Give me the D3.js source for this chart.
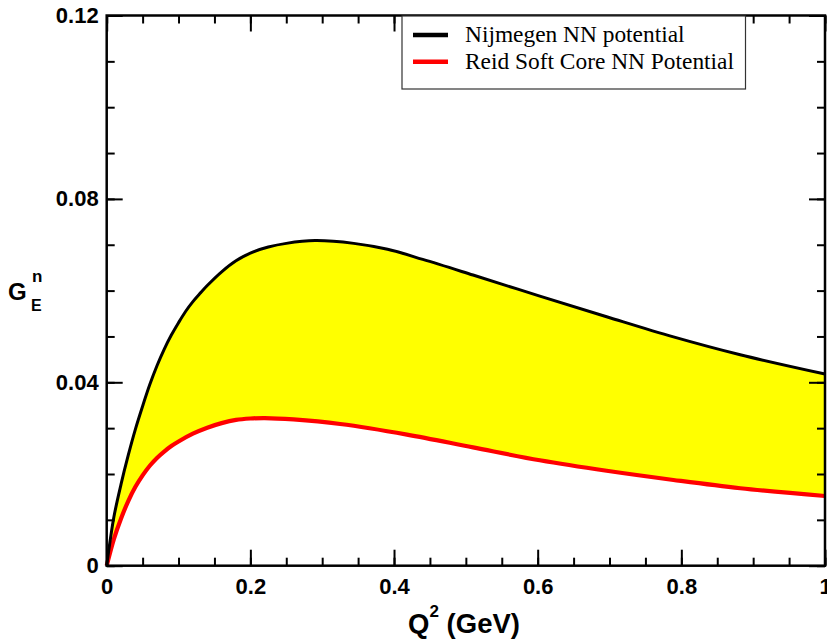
<!DOCTYPE html>
<html><head><meta charset="utf-8">
<script src="https://cdn.jsdelivr.net/npm/d3@7"></script>
<style>body{margin:0;background:#fff}</style>
</head><body>
<svg id="c" width="827" height="640"></svg>
<script>
// Nijmegen NN potential
const nijQ = [0, 0.01, 0.02, 0.03, 0.04, 0.05, 0.06, 0.07, 0.08, 0.09, 0.10, 0.11, 0.12, 0.13, 0.14, 0.16, 0.18, 0.20, 0.225, 0.25, 0.29, 0.344, 0.391, 0.44, 0.51, 0.603, 0.696, 0.789, 0.882, 1.0];
const nijG = [0, 0.0106, 0.0178, 0.0241, 0.0298, 0.0348, 0.0395, 0.0436, 0.0472, 0.0503, 0.0530, 0.0555, 0.0576, 0.0594, 0.0611, 0.0641, 0.0665, 0.0682, 0.0695, 0.0703, 0.0709, 0.0703, 0.0690, 0.0668, 0.0634, 0.0588, 0.0543, 0.0499, 0.0460, 0.0418];
// Reid Soft Core NN Potential
const rscQ = [0, 0.01, 0.02, 0.03, 0.04, 0.05, 0.06, 0.07, 0.08, 0.09, 0.10, 0.12, 0.14, 0.16, 0.18, 0.20, 0.22, 0.26, 0.325, 0.418, 0.51, 0.603, 0.696, 0.789, 0.882, 1.0];
const rscG = [0, 0.0058, 0.0103, 0.0141, 0.0172, 0.0197, 0.0218, 0.0235, 0.0249, 0.0261, 0.0271, 0.0288, 0.0301, 0.0311, 0.0318, 0.0321, 0.0322, 0.0319, 0.0309, 0.0286, 0.0258, 0.0230, 0.0207, 0.0187, 0.0169, 0.0152];
const seriesNames = ["Nijmegen NN potential", "Reid Soft Core NN Potential"];
const seriesColors = ["#000000", "#ff0000"];
const xTicks = [0, 0.2, 0.4, 0.6, 0.8, 1];
const xTickLabels = ["0", "0.2", "0.4", "0.6", "0.8", "1"];
const yTicks = [0, 0.04, 0.08, 0.12];
const yTickLabels = ["0", "0.04", "0.08", "0.12"];

const L = 106.7, R = 825, T = 15.5, B = 565.7;
const svg = d3.select("#c");
const x = d3.scaleLinear().domain([0, 1]).range([L, R]);
const y = d3.scaleLinear().domain([0, 0.12]).range([B, T]);

const nij = nijQ.map((q, i) => [q, nijG[i]]);
const rsc = rscQ.map((q, i) => [q, rscG[i]]);
const line = d3.line().x(d => x(d[0])).y(d => y(d[1])).curve(d3.curveCatmullRom.alpha(0.5));

const upper = line(nij);
const lower = line(rsc.slice().reverse());
svg.append("path").attr("fill", "#ffff00").attr("stroke", "none")
  .attr("d", upper + "L" + lower.slice(1) + "Z");

svg.append("path").attr("fill", "none").attr("stroke", seriesColors[1]).attr("stroke-width", 4.2).attr("d", line(rsc));
svg.append("path").attr("fill", "none").attr("stroke", seriesColors[0]).attr("stroke-width", 3).attr("d", line(nij));

const fmtX = (d) => { const i = xTicks.findIndex(t => Math.abs(t - d) < 1e-9); return i >= 0 ? xTickLabels[i] : ""; };
const fmtY = (d) => { const i = yTicks.findIndex(t => Math.abs(t - d) < 1e-9); return i >= 0 ? yTickLabels[i] : ""; };
const xMinor = d3.range(0, 1.0001, 0.05);
const yMinor = d3.range(0, 0.12001, 0.01);
const FONT = "Liberation Sans, Arial, Helvetica, sans-serif";

function styleAxis(g) {
  g.selectAll(".domain").remove();
  g.selectAll("line").attr("stroke", "#000").attr("stroke-width", 2);
  g.selectAll("text").attr("font-family", FONT).attr("font-weight", "bold").attr("font-size", 22).attr("fill", "#000");
}
const gb = svg.append("g").attr("transform", `translate(0,${B})`);
gb.call(d3.axisBottom(x).tickValues(xMinor).tickSize(-8).tickFormat(() => ""));
gb.append("g").call(d3.axisBottom(x).tickValues(xTicks).tickSize(-16).tickFormat(fmtX));
styleAxis(gb);
gb.selectAll("text").attr("y", 13).attr("dy", "0.71em");

const gt = svg.append("g").attr("transform", `translate(0,${T})`);
gt.call(d3.axisTop(x).tickValues(xMinor).tickSize(-8).tickFormat(() => ""));
gt.append("g").call(d3.axisTop(x).tickValues(xTicks).tickSize(-16).tickFormat(() => ""));
styleAxis(gt);

const gl = svg.append("g").attr("transform", `translate(${L},0)`);
gl.call(d3.axisLeft(y).tickValues(yMinor).tickSize(-8).tickFormat(() => ""));
gl.append("g").call(d3.axisLeft(y).tickValues(yTicks).tickSize(-16).tickFormat(fmtY));
styleAxis(gl);
gl.selectAll("text").attr("x", -8).attr("dy", "0.32em");

const gr = svg.append("g").attr("transform", `translate(${R},0)`);
gr.call(d3.axisRight(y).tickValues(yMinor).tickSize(-8).tickFormat(() => ""));
gr.append("g").call(d3.axisRight(y).tickValues(yTicks).tickSize(-16).tickFormat(() => ""));
styleAxis(gr);

svg.append("rect").attr("x", L).attr("y", T).attr("width", R - L).attr("height", B - T)
  .attr("fill", "none").attr("stroke", "#000").attr("stroke-width", 2.5);

// axis titles
const xt = svg.append("text").attr("x", 464).attr("y", 633).attr("text-anchor", "middle")
  .attr("font-family", FONT).attr("font-weight", "bold").attr("font-size", 27.5);
xt.append("tspan").text("Q");
xt.append("tspan").attr("font-size", 17).attr("dy", -16).text("2");
xt.append("tspan").attr("dy", 16).text(" (GeV)");

const yt = svg.append("g").attr("font-family", FONT).attr("font-weight", "bold");
yt.append("text").attr("x", 8).attr("y", 300).attr("font-size", 24).text("G");
yt.append("text").attr("x", 32).attr("y", 282).attr("font-size", 17).text("n");
yt.append("text").attr("x", 31).attr("y", 311).attr("font-size", 16).text("E");

// legend
const lg = svg.append("g");
lg.append("rect").attr("x", 402).attr("y", 16).attr("width", 343.5).attr("height", 73)
  .attr("fill", "#fff").attr("stroke", "#333").attr("stroke-width", 1.2);
seriesNames.forEach((name, i) => {
  const yy = 35 + i * 26.7;
  lg.append("line").attr("x1", 413).attr("x2", 448).attr("y1", yy).attr("y2", yy)
    .attr("stroke", seriesColors[i]).attr("stroke-width", 4.5);
  lg.append("text").attr("x", 465).attr("y", yy + 7)
    .attr("font-family", "Liberation Serif, Times New Roman, serif").attr("font-size", 23.4).text(name);
});
</script>
</body></html>
